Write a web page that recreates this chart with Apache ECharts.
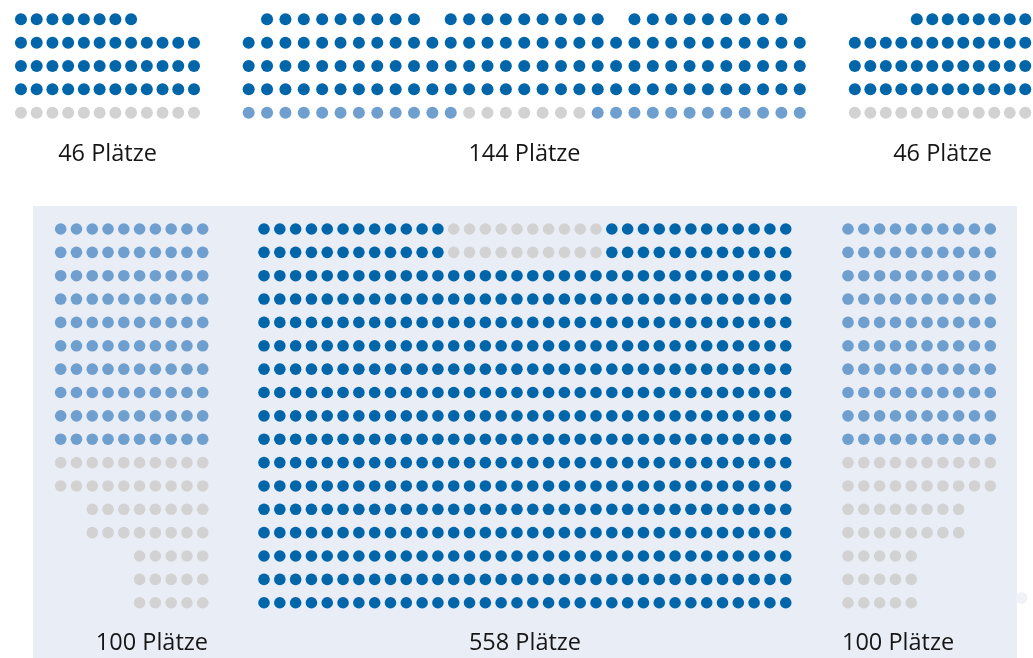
<!DOCTYPE html>
<html>
<head>
<meta charset="utf-8">
<script src="https://cdn.jsdelivr.net/npm/echarts@6/dist/echarts.min.js"></script>
<style>
  html, body { margin: 0; padding: 0; background: #fff; }
  #chart { width: 1033px; height: 658px; }
</style>
</head>
<body>
<div id="chart"></div>
<script>
// Sitzplan: d = belegt (dunkelblau), l = hellblau, g = grau, . = kein Platz
const topLeftRows = [
  'dddddddd....',
  'dddddddddddd',
  'dddddddddddd',
  'dddddddddddd',
  'gggggggggggg'
];
const topCenterRows = [
  '.ddddddddd.ddddddddd.ddddddddd.',
  'ddddddddddddddddddddddddddddddd',
  'ddddddddddddddddddddddddddddddd',
  'ddddddddddddddddddddddddddddddd',
  'llllllllllllgggggggllllllllllll'
];
const topRightRows = [
  '....dddddddd',
  'dddddddddddd',
  'dddddddddddd',
  'dddddddddddd',
  'gggggggggggg'
];
const bottomLeftRows = [
  'llllllllll', 'llllllllll', 'llllllllll', 'llllllllll', 'llllllllll',
  'llllllllll', 'llllllllll', 'llllllllll', 'llllllllll', 'llllllllll',
  'gggggggggg', 'gggggggggg',
  '..gggggggg', '..gggggggg',
  '.....ggggg', '.....ggggg', '.....ggggg'
];
const bottomCenterRows = [
  'ddddddddddddggggggggggdddddddddddd',
  'ddddddddddddggggggggggdddddddddddd',
  'dddddddddddddddddddddddddddddddddd', 'dddddddddddddddddddddddddddddddddd',
  'dddddddddddddddddddddddddddddddddd', 'dddddddddddddddddddddddddddddddddd',
  'dddddddddddddddddddddddddddddddddd', 'dddddddddddddddddddddddddddddddddd',
  'dddddddddddddddddddddddddddddddddd', 'dddddddddddddddddddddddddddddddddd',
  'dddddddddddddddddddddddddddddddddd', 'dddddddddddddddddddddddddddddddddd',
  'dddddddddddddddddddddddddddddddddd', 'dddddddddddddddddddddddddddddddddd',
  'dddddddddddddddddddddddddddddddddd', 'dddddddddddddddddddddddddddddddddd',
  'dddddddddddddddddddddddddddddddddd'
];
const bottomRightRows = [
  'llllllllll', 'llllllllll', 'llllllllll', 'llllllllll', 'llllllllll',
  'llllllllll', 'llllllllll', 'llllllllll', 'llllllllll', 'llllllllll',
  'gggggggggg', 'gggggggggg',
  'gggggggg..', 'gggggggg..',
  'ggggg.....', 'ggggg.....', 'ggggg.....'
];
const blockLabels = ['46 Plätze', '144 Plätze', '46 Plätze', '100 Plätze', '558 Plätze', '100 Plätze'];

const seatColors = { d: '#0065a9', l: '#6f9fcf', g: '#d2d2d2' };

// Position der Blöcke auf der Seite
const blockRowsAll = [topLeftRows, topCenterRows, topRightRows, bottomLeftRows, bottomCenterRows, bottomRightRows];
const layout = [
  { left: 13.1,  top: 7.7,   colW: 15.73, rowH: 23.33, size: 12,   lx: 107.5, ly: 154, align: 'center' },
  { left: 239.5, top: 7.7,   colW: 18.37, rowH: 23.33, size: 12,   lx: 524.5, ly: 154, align: 'center' },
  { left: 847.1, top: 7.7,   colW: 15.73, rowH: 23.33, size: 12,   lx: 942.5, ly: 154, align: 'center' },
  { left: 52.8,  top: 217.3, colW: 15.78, rowH: 23.36, size: 11.6, lx: 208,   ly: 643, align: 'right' },
  { left: 256.1, top: 217.3, colW: 15.81, rowH: 23.36, size: 11.6, lx: 525,   ly: 643, align: 'center' },
  { left: 840.1, top: 217.3, colW: 15.81, rowH: 23.36, size: 11.6, lx: 842,   ly: 643, align: 'left' }
];

let grids = [], xAxes = [], yAxes = [], series = [], texts = [];

blockRowsAll.forEach(function (rows, b) {
  let lay = layout[b];
  let nCols = rows[0].length;
  let nRows = rows.length;
  grids.push({
    left: lay.left, top: lay.top,
    width: nCols * lay.colW, height: nRows * lay.rowH
  });
  xAxes.push({ gridIndex: b, type: 'value', min: -0.5, max: nCols - 0.5, show: false });
  yAxes.push({ gridIndex: b, type: 'value', min: -0.5, max: nRows - 0.5, inverse: true, show: false });

  let data = [];
  for (let r = 0; r < nRows; r++) {
    for (let c = 0; c < nCols; c++) {
      let k = rows[r][c];
      if (k === '.') continue;
      data.push({ value: [c, r], itemStyle: { color: seatColors[k], opacity: 1 } });
    }
  }
  series.push({
    type: 'scatter',
    xAxisIndex: b, yAxisIndex: b,
    symbol: 'circle', symbolSize: lay.size,
    silent: true,
    itemStyle: { opacity: 1 },
    data: data
  });

  texts.push({
    type: 'text', x: lay.lx, y: lay.ly, z: 10,
    style: {
      text: blockLabels[b], fill: '#161616',
      font: '23.5px "Open Sans", sans-serif',
      textAlign: lay.align, textVerticalAlign: 'middle'
    }
  });
});

let oChart = echarts.init(document.getElementById('chart'));
oChart.setOption({
  backgroundColor: '#ffffff',
  animation: false,
  graphic: [
    { type: 'rect', z: -10, shape: { x: 33, y: 206, width: 984, height: 460 }, style: { fill: '#e9edf6' } },
    { type: 'circle', z: -10, shape: { cx: 1021.5, cy: 598, r: 6 }, style: { fill: '#eff2f8' } }
  ].concat(texts),
  grid: grids,
  xAxis: xAxes,
  yAxis: yAxes,
  series: series
});
</script>
</body>
</html>
